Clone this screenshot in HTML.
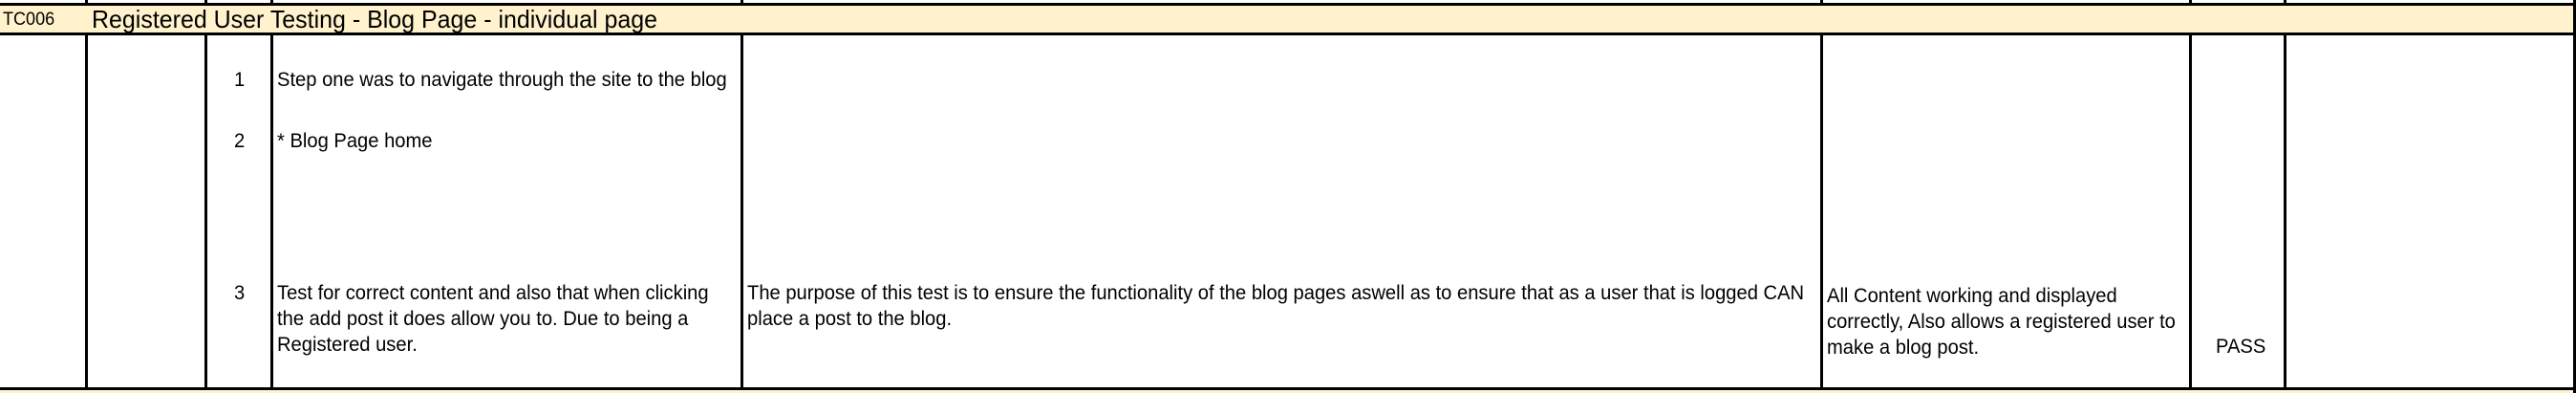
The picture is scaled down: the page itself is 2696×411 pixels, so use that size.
<!DOCTYPE html>
<html><head><meta charset="utf-8"><style>
html,body{margin:0;padding:0;}
body{width:2696px;height:411px;position:relative;overflow:hidden;background:#fff;font-family:"Liberation Sans",sans-serif;color:#000;}
.a{position:absolute;}
.v{position:absolute;width:3px;background:#000;}
.h{position:absolute;height:3px;background:#000;left:0;width:2696px;}
.t{position:absolute;white-space:nowrap;font-size:21px;line-height:27px;transform-origin:0 50%;transform:scaleX(0.96);}
</style></head><body>
<div class="a" style="left:0;top:5px;width:2696px;height:31px;background:#fff2cc"></div>
<div class="a" style="left:0;top:408px;width:2696px;height:3px;background:#fff2cc"></div>
<div class="h" style="top:3px"></div>
<div class="h" style="top:34px"></div>
<div class="h" style="top:405px"></div>
<div class="v" style="left:89px;top:0;height:4px"></div>
<div class="v" style="left:214px;top:0;height:4px"></div>
<div class="v" style="left:283px;top:0;height:4px"></div>
<div class="v" style="left:775px;top:0;height:4px"></div>
<div class="v" style="left:1905px;top:0;height:4px"></div>
<div class="v" style="left:2291px;top:0;height:4px"></div>
<div class="v" style="left:2390px;top:0;height:4px"></div>
<div class="v" style="left:2693px;top:0;height:411px"></div>
<div class="v" style="left:89px;top:35px;height:372px"></div>
<div class="v" style="left:214px;top:35px;height:372px"></div>
<div class="v" style="left:283px;top:35px;height:372px"></div>
<div class="v" style="left:775px;top:35px;height:372px"></div>
<div class="v" style="left:1905px;top:35px;height:372px"></div>
<div class="v" style="left:2291px;top:35px;height:372px"></div>
<div class="v" style="left:2390px;top:35px;height:372px"></div>

<div class="t" style="left:3px;top:10px;font-size:19px;line-height:22px;transform:scaleX(0.95)">TC006</div>
<div class="t" style="left:96px;top:5px;font-size:26px;line-height:30px;transform:scaleX(0.96)">Registered User Testing - Blog Page - individual page</div>

<div class="t" style="left:245px;top:70px">1</div>
<div class="t" style="left:245px;top:134px">2</div>
<div class="t" style="left:245px;top:293px">3</div>

<div class="t" style="left:290px;top:70px">Step one was to navigate through the site to the blog</div>
<div class="t" style="left:290px;top:134px">* Blog Page home</div>
<div class="t" style="left:290px;top:293px">Test for correct content and also that when clicking<br>the add post it does allow you to. Due to being a<br>Registered user.</div>

<div class="t" style="left:782px;top:293px">The purpose of this test is to ensure the functionality of the blog pages aswell as to ensure that as a user that is logged CAN<br>place a post to the blog.</div>

<div class="t" style="left:1912px;top:296px">All Content working and displayed<br>correctly, Also allows a registered user to<br>make a blog post.</div>

<div class="t" style="left:2319px;top:349px">PASS</div>
</body></html>
